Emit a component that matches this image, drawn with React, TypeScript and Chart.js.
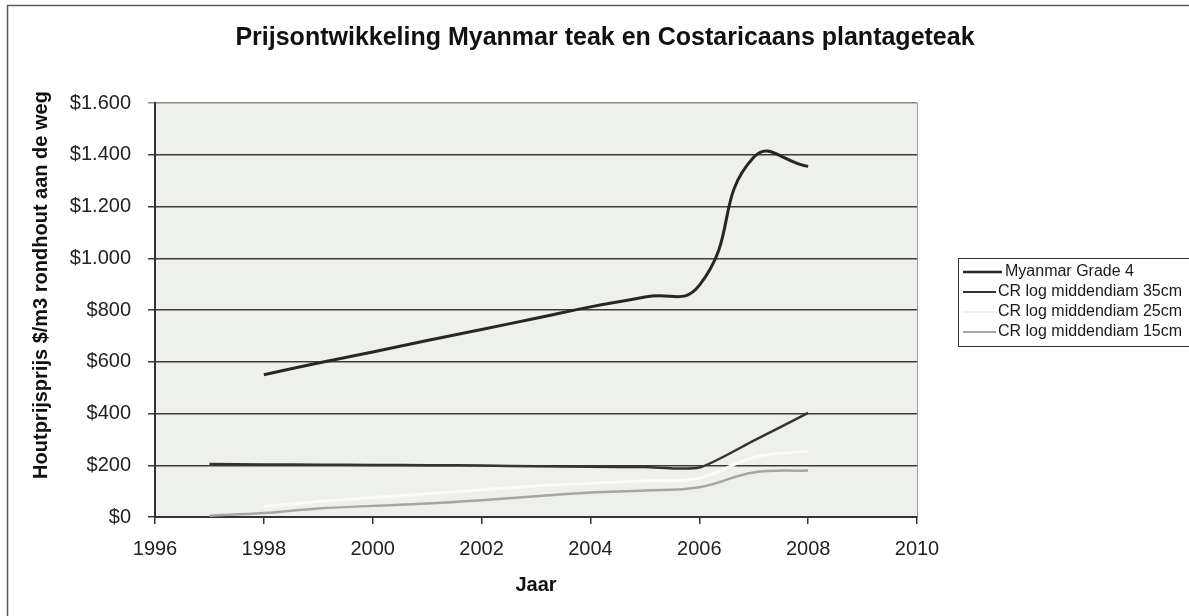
import React, { useEffect, useRef } from "react";
import { Chart, registerables } from "chart.js";

Chart.register(...registerables);

// ---- data ----
const years = [1997, 1998, 1999, 2000, 2001, 2002, 2003, 2004, 2005, 2006, 2007, 2008];
const myanmarGrade4 = [null, 550, 595, 638, 682, 725, 768, 812, 850, 895, 1390, 1355];
const crLog35 = [205, 203, 202, 201, 200, 199, 196, 194, 193, 191, 295, 402];
const crLog25 = [null, 40, 60, 75, 90, 105, 120, 130, 140, 150, 230, 255];
const crLog15 = [5, 15, 33, 43, 52, 65, 80, 95, 102, 115, 172, 180];
const seriesLabels = [
  "Myanmar Grade 4",
  "CR log middendiam 35cm",
  "CR log middendiam 25cm",
  "CR log middendiam 15cm",
];
const titleText = "Prijsontwikkeling Myanmar teak en Costaricaans plantageteak";
const yTitleText = "Houtprijsprijs $/m3 rondhout aan de weg";
const xTitleText = "Jaar";
const xMin = 1996, xMax = 2010, xStep = 2;
const yMin = 0, yMax = 1600, yStep = 200;

const FONT = "'Liberation Sans', Arial, sans-serif";
const seriesColors = ["#262626", "#333333", "#fafafa", "#a6a6a6"];
const seriesWidths = [3, 2.5, 3, 2.5];
const seriesTension = [0.5, 0.2, 0.4, 0.4];

function toPoints(arr: (number | null)[]) {
  const pts: { x: number; y: number }[] = [];
  years.forEach((yr, i) => {
    const v = arr[i];
    if (v !== null && v !== undefined) pts.push({ x: yr, y: v });
  });
  return pts;
}

function fmtDollar(v: number) {
  return "$" + String(v).replace(/\B(?=(\d{3})+(?!\d))/g, ".");
}

const decorPlugin = {
  id: "decor",
  beforeDraw(chart: any) {
    const { ctx, chartArea, width, height } = chart;
    ctx.save();
    ctx.fillStyle = "#ffffff";
    ctx.fillRect(0, 0, width, height);
    ctx.fillStyle = "#eef0ec";
    ctx.fillRect(chartArea.left, chartArea.top, chartArea.right - chartArea.left, chartArea.bottom - chartArea.top);
    ctx.strokeStyle = "#9a9a9a";
    ctx.lineWidth = 1;
    ctx.beginPath();
    ctx.moveTo(chartArea.right + 0.5, chartArea.top);
    ctx.lineTo(chartArea.right + 0.5, chartArea.bottom);
    ctx.stroke();
    ctx.restore();
  },
  afterDraw(chart: any) {
    const { ctx } = chart;
    ctx.save();
    // outer frame
    ctx.strokeStyle = "#5a5a5a";
    ctx.lineWidth = 1.5;
    ctx.beginPath();
    ctx.moveTo(7.5, 700);
    ctx.lineTo(7.5, 5.5);
    ctx.lineTo(1250, 5.5);
    ctx.stroke();

    // title
    ctx.fillStyle = "#111111";
    ctx.font = `bold 25px ${FONT}`;
    ctx.textAlign = "center";
    ctx.textBaseline = "alphabetic";
    ctx.fillText(titleText, 605, 45);

    // y title
    ctx.save();
    ctx.translate(47, 285);
    ctx.rotate(-Math.PI / 2);
    ctx.font = `bold 20px ${FONT}`;
    ctx.textAlign = "center";
    ctx.textBaseline = "alphabetic";
    ctx.fillText(yTitleText, 0, 0);
    ctx.restore();

    // legend
    ctx.strokeStyle = "#333333";
    ctx.lineWidth = 1;
    ctx.fillStyle = "#ffffff";
    ctx.fillRect(958.5, 258.5, 300, 88);
    ctx.strokeRect(958.5, 258.5, 300, 88);
    ctx.font = `16px ${FONT}`;
    ctx.textAlign = "left";
    ctx.textBaseline = "middle";
    chart.data.datasets.forEach((ds: any, i: number) => {
      const y = 272 + i * 20;
      const lineEnd = i === 0 ? 1002 : 996;
      const textX = i === 0 ? 1005 : 998;
      ctx.strokeStyle = i === 2 ? "#f0f0f0" : ds.borderColor;
      ctx.lineWidth = i === 0 ? 2.5 : 2;
      ctx.beginPath();
      ctx.moveTo(963, y);
      ctx.lineTo(lineEnd, y);
      ctx.stroke();
      ctx.fillStyle = "#1a1a1a";
      ctx.fillText(ds.label, textX, y);
    });
    ctx.restore();
  },
};

export default function App() {
  const canvasRef = useRef<HTMLCanvasElement | null>(null);

  useEffect(() => {
    if (!canvasRef.current) return;
    Chart.defaults.font.family = FONT;
    const seriesData = [myanmarGrade4, crLog35, crLog25, crLog15];
    const chart = new Chart(canvasRef.current, {
      type: "line",
      data: {
        datasets: seriesData.map((arr, i) => ({
          label: seriesLabels[i],
          data: toPoints(arr),
          borderColor: seriesColors[i],
          backgroundColor: seriesColors[i],
          borderWidth: seriesWidths[i],
          pointRadius: 0,
          fill: false,
          tension: seriesTension[i],
        })),
      },
      options: {
        animation: false,
        responsive: true,
        maintainAspectRatio: false,
        layout: { padding: { top: 103, right: 272, left: 0, bottom: 0 } },
        plugins: {
          legend: { display: false },
          title: { display: false },
          tooltip: { enabled: false },
        },
        scales: {
          x: {
            type: "linear",
            min: xMin,
            max: xMax,
            ticks: {
              stepSize: xStep,
              color: "#222222",
              font: { size: 20 },
              padding: 13,
              maxRotation: 0,
              callback: (v: any) => String(v),
            },
            grid: {
              drawOnChartArea: false,
              drawTicks: true,
              tickLength: 7,
              color: "#333333",
              lineWidth: 1.5,
            },
            border: { display: true, color: "#333333", width: 2 },
            title: {
              display: true,
              text: xTitleText,
              color: "#111111",
              font: { size: 20, weight: "bold" },
              padding: { top: 0, bottom: 19 },
            },
            afterFit: (scale: any) => {
              scale.height = 99;
            },
          },
          y: {
            type: "linear",
            min: yMin,
            max: yMax,
            ticks: {
              stepSize: yStep,
              color: "#222222",
              font: { size: 20 },
              padding: 17,
              callback: (v: any) => fmtDollar(Number(v)),
            },
            grid: {
              drawTicks: true,
              tickLength: 7,
              color: (c: any) => (c.tick && c.tick.value === yMax ? "#8a8a8a" : "#3c3c3c"),
              lineWidth: 1.5,
            },
            border: { display: true, color: "#333333", width: 2 },
            afterFit: (scale: any) => {
              scale.width = 155;
            },
          },
        },
      },
      plugins: [decorPlugin],
    } as any);
    return () => chart.destroy();
  }, []);

  return (
    <div style={{ position: "fixed", left: 0, top: 0, width: 1189, height: 616 }}>
      <canvas ref={canvasRef} />
    </div>
  );
}
